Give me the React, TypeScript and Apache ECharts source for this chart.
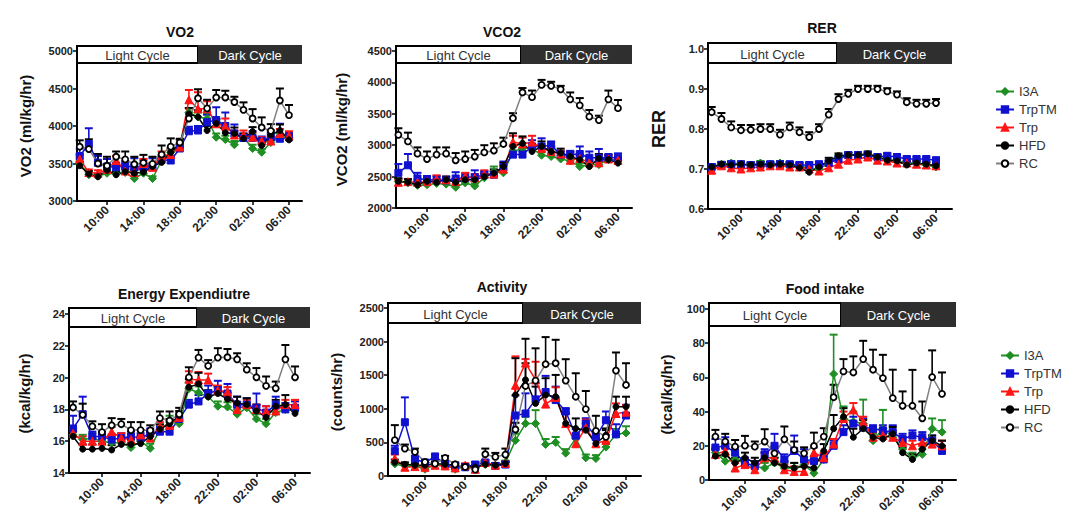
import React, { useEffect, useRef } from 'react';
import * as echarts from 'echarts';

// ---------- data ----------
const hours = [7, 8, 9, 10, 11, 12, 13, 14, 15, 16, 17, 18, 19, 20, 21, 22, 23, 24, 25, 26, 27, 28, 29, 30];
const tickHours = [10, 14, 18, 22, 26, 30];
const tickLabels = ['10:00', '14:00', '18:00', '22:00', '02:00', '06:00'];
const groups = ['I3A', 'TrpTM', 'Trp', 'HFD', 'RC'];

// VO2
const vo2_I3A = [3500, 3350, 3330, 3370, 3360, 3380, 3300, 3370, 3300, 3540, 3650, 3720, 4180, 4120, 4100, 3850, 3820, 3750, 3850, 3700, 3650, 3780, 3850, 3850];
const vo2_TrpTM = [3600, 3760, 3510, 3460, 3450, 3470, 3450, 3460, 3450, 3550, 3540, 3700, 3930, 3940, 4050, 4080, 4000, 3900, 3840, 3840, 3800, 3850, 3830, 3850];
const vo2_Trp = [3560, 3380, 3370, 3420, 3540, 3400, 3380, 3500, 3450, 3600, 3620, 3720, 4350, 4230, 4230, 4030, 4000, 3880, 3880, 3850, 3800, 3800, 3900, 3870];
const vo2_HFD = [3470, 3360, 3325, 3410, 3350, 3390, 3370, 3385, 3460, 3515, 3645, 3770, 4160, 4120, 3940, 4035, 3910, 3900, 3835, 3925, 3740, 3880, 3940, 3815];
const vo2_RC = [3724, 3693, 3500, 3470, 3590, 3555, 3490, 3510, 3495, 3620, 3725, 3780, 4100, 4370, 4235, 4380, 4380, 4320, 4215, 4100, 3980, 3935, 4340, 4145];
const vo2_I3A_err = [40, 30, 30, 40, 30, 30, 30, 40, 30, 50, 50, 40, 60, 60, 60, 50, 50, 50, 50, 50, 40, 40, 50, 50];
const vo2_TrpTM_err = [100, 210, 90, 100, 60, 60, 120, 80, 120, 60, 60, 60, 60, 60, 100, 170, 180, 120, 60, 90, 60, 60, 200, 60];
const vo2_Trp_err = [60, 40, 40, 40, 60, 50, 50, 60, 60, 60, 60, 60, 130, 220, 100, 60, 100, 60, 60, 60, 50, 50, 60, 60];
const vo2_HFD_err = [50, 40, 40, 40, 40, 40, 40, 40, 40, 50, 60, 60, 80, 90, 60, 60, 70, 80, 60, 60, 60, 60, 80, 60];
const vo2_RC_err = [85, 130, 127, 120, 70, 105, 100, 105, 95, 120, 110, 40, 135, 120, 115, 100, 90, 70, 100, 125, 135, 90, 160, 135];

// VCO2
const vco2_I3A = [2420, 2400, 2360, 2370, 2390, 2380, 2330, 2400, 2350, 2480, 2580, 2560, 2900, 2950, 2950, 2840, 2820, 2780, 2750, 2660, 2690, 2690, 2770, 2750];
const vco2_TrpTM = [2560, 2680, 2470, 2450, 2450, 2440, 2470, 2480, 2490, 2530, 2530, 2650, 2850, 2850, 2980, 2980, 3000, 2850, 2850, 2860, 2800, 2800, 2800, 2800];
const vco2_Trp = [2410, 2420, 2410, 2420, 2460, 2450, 2420, 2500, 2480, 2540, 2540, 2620, 3050, 3020, 3050, 2950, 2900, 2860, 2760, 2790, 2720, 2720, 2780, 2760];
const vco2_HFD = [2425, 2410, 2370, 2425, 2410, 2450, 2410, 2450, 2450, 2500, 2555, 2660, 2980, 3030, 2900, 2980, 2900, 2875, 2820, 2770, 2660, 2790, 2770, 2715];
const vco2_RC = [3165, 3060, 2865, 2780, 2850, 2865, 2760, 2780, 2820, 2885, 2915, 3020, 3430, 3840, 3765, 3960, 3945, 3890, 3730, 3635, 3455, 3400, 3730, 3590];
const vco2_I3A_err = [40, 40, 40, 40, 40, 40, 40, 40, 40, 40, 80, 40, 80, 80, 60, 50, 50, 50, 50, 50, 50, 50, 50, 50];
const vco2_TrpTM_err = [140, 180, 90, 60, 60, 60, 100, 70, 110, 60, 60, 90, 60, 60, 100, 130, 60, 60, 60, 120, 100, 140, 60, 70];
const vco2_Trp_err = [40, 40, 40, 40, 60, 40, 40, 60, 60, 60, 60, 60, 100, 100, 100, 60, 60, 50, 50, 50, 50, 50, 50, 50];
const vco2_HFD_err = [50, 50, 40, 50, 40, 50, 50, 50, 50, 50, 60, 60, 210, 110, 80, 80, 80, 70, 70, 80, 80, 70, 70, 60];
const vco2_RC_err = [105, 140, 100, 120, 115, 100, 115, 120, 105, 115, 115, 100, 80, 70, 105, 80, 65, 55, 110, 115, 105, 70, 140, 130];

// RER
const rer_I3A = [0.705, 0.712, 0.715, 0.712, 0.71, 0.715, 0.712, 0.715, 0.71, 0.71, 0.7, 0.7, 0.715, 0.73, 0.735, 0.735, 0.735, 0.728, 0.725, 0.72, 0.715, 0.715, 0.71, 0.705];
const rer_TrpTM = [0.705, 0.71, 0.712, 0.712, 0.71, 0.71, 0.712, 0.712, 0.712, 0.71, 0.71, 0.712, 0.715, 0.725, 0.735, 0.735, 0.735, 0.73, 0.733, 0.73, 0.725, 0.725, 0.725, 0.722];
const rer_Trp = [0.697, 0.708, 0.703, 0.7, 0.703, 0.705, 0.708, 0.708, 0.705, 0.705, 0.7, 0.695, 0.703, 0.712, 0.722, 0.725, 0.73, 0.722, 0.72, 0.715, 0.715, 0.712, 0.71, 0.708];
const rer_HFD = [0.705, 0.712, 0.71, 0.712, 0.71, 0.712, 0.71, 0.712, 0.71, 0.703, 0.692, 0.705, 0.72, 0.733, 0.735, 0.735, 0.738, 0.73, 0.722, 0.72, 0.71, 0.715, 0.712, 0.708];
const rer_RC = [0.842, 0.825, 0.804, 0.797, 0.798, 0.8, 0.8, 0.786, 0.804, 0.792, 0.78, 0.8, 0.836, 0.875, 0.888, 0.9, 0.9, 0.9, 0.894, 0.886, 0.867, 0.863, 0.863, 0.865];
const rer_I3A_err = [0.005, 0.005, 0.005, 0.005, 0.005, 0.005, 0.005, 0.005, 0.005, 0.005, 0.005, 0.005, 0.005, 0.005, 0.005, 0.005, 0.005, 0.005, 0.005, 0.005, 0.005, 0.005, 0.005, 0.005];
const rer_TrpTM_err = [0.006, 0.006, 0.006, 0.006, 0.006, 0.006, 0.006, 0.006, 0.006, 0.006, 0.006, 0.006, 0.006, 0.006, 0.006, 0.006, 0.006, 0.006, 0.006, 0.006, 0.006, 0.006, 0.006, 0.006];
const rer_Trp_err = [0.005, 0.005, 0.005, 0.005, 0.005, 0.005, 0.005, 0.005, 0.005, 0.005, 0.005, 0.005, 0.005, 0.005, 0.005, 0.005, 0.005, 0.005, 0.005, 0.005, 0.005, 0.005, 0.005, 0.005];
const rer_HFD_err = [0.006, 0.006, 0.006, 0.006, 0.006, 0.006, 0.006, 0.006, 0.006, 0.006, 0.006, 0.006, 0.008, 0.006, 0.006, 0.006, 0.006, 0.006, 0.006, 0.006, 0.006, 0.006, 0.006, 0.006];
const rer_RC_err = [0.013, 0.015, 0.015, 0.013, 0.012, 0.012, 0.012, 0.012, 0.012, 0.012, 0.012, 0.012, 0.014, 0.012, 0.01, 0.008, 0.008, 0.008, 0.008, 0.008, 0.01, 0.01, 0.01, 0.01];

// Energy expenditure
const ee_I3A = [16.4, 16.1, 16.2, 16.0, 15.9, 15.9, 15.6, 16.0, 15.55, 16.75, 17.2, 17.1, 19.3, 19.05, 18.8, 18.2, 18.15, 17.7, 18.1, 17.4, 17.1, 17.8, 18.0, 17.9];
const ee_TrpTM = [16.8, 17.7, 16.3, 16.3, 16.1, 16.2, 16.3, 16.2, 16.5, 16.6, 16.6, 17.4, 18.3, 18.5, 19.0, 19.2, 19.0, 18.3, 18.3, 18.1, 17.8, 18.3, 18.0, 18.1];
const ee_Trp = [16.5, 16.0, 16.0, 16.0, 16.6, 16.2, 16.1, 16.4, 16.2, 16.9, 17.0, 17.5, 19.9, 19.85, 19.85, 19.2, 19.1, 18.0, 18.3, 18.0, 17.9, 17.9, 18.3, 18.3];
const ee_HFD = [16.3, 15.5, 15.5, 15.55, 15.45, 15.8, 15.8, 15.85, 16.3, 16.75, 17.1, 17.6, 19.4, 19.6, 18.8, 19.0, 18.65, 18.4, 18.3, 17.9, 17.5, 18.2, 18.3, 17.75];
const ee_RC = [18.12, 17.66, 16.93, 16.57, 17.0, 17.07, 16.7, 16.7, 16.68, 17.45, 17.3, 17.7, 20.02, 21.26, 20.74, 21.26, 21.28, 21.15, 20.5, 20.02, 19.48, 19.33, 21.15, 20.02];
const ee_I3A_err = [0.3, 0.3, 0.3, 0.3, 0.3, 0.3, 0.3, 0.3, 0.3, 0.3, 0.4, 0.3, 0.4, 0.4, 0.4, 0.3, 0.3, 0.3, 0.3, 0.3, 0.3, 0.3, 0.3, 0.3];
const ee_TrpTM_err = [0.8, 1.1, 0.3, 0.3, 0.3, 0.3, 0.3, 0.3, 0.3, 0.3, 0.3, 0.3, 0.3, 0.4, 0.5, 0.6, 0.6, 0.5, 0.4, 0.9, 0.4, 0.5, 0.4, 0.4];
const ee_Trp_err = [0.3, 0.3, 0.3, 0.3, 0.3, 0.3, 0.3, 0.3, 0.3, 0.3, 0.3, 0.3, 0.5, 0.5, 0.4, 0.3, 0.3, 0.3, 0.3, 0.3, 0.3, 0.3, 0.3, 0.3];
const ee_HFD_err = [0.3, 0.3, 0.3, 0.3, 0.3, 0.3, 0.3, 0.3, 0.3, 0.3, 0.3, 0.3, 0.5, 0.7, 0.4, 0.4, 0.4, 0.4, 0.4, 0.4, 0.4, 0.4, 0.6, 0.4];
const ee_RC_err = [0.38, 0.7, 0.32, 0.5, 0.45, 0.33, 0.5, 0.5, 0.32, 0.42, 0.57, 0.4, 0.63, 0.48, 0.36, 0.59, 0.52, 0.38, 0.4, 0.58, 0.59, 0.42, 0.9, 0.68];

// Activity
const act_I3A = [180, 150, 150, 100, 170, 170, 100, 140, 120, 170, 160, 200, 530, 780, 780, 470, 500, 340, 560, 270, 260, 430, 620, 640];
const act_TrpTM = [370, 800, 250, 200, 290, 180, 150, 130, 170, 200, 150, 170, 900, 930, 1140, 1250, 1130, 960, 600, 780, 580, 830, 620, 900];
const act_Trp = [260, 130, 140, 130, 160, 150, 120, 160, 100, 200, 160, 190, 1350, 1680, 1430, 1070, 1170, 780, 480, 720, 480, 530, 930, 950];
const act_HFD = [204, 174, 160, 160, 184, 174, 160, 144, 134, 174, 160, 184, 1205, 1430, 1080, 1205, 1180, 782, 707, 682, 483, 608, 1031, 1031];
const act_RC = [533, 408, 358, 209, 184, 269, 174, 134, 95, 324, 284, 319, 692, 1340, 1420, 1663, 1678, 1420, 1180, 996, 672, 583, 1569, 1355];
const act_I3A_err = [30, 30, 30, 30, 30, 30, 30, 30, 30, 30, 30, 30, 100, 100, 200, 80, 80, 60, 60, 50, 50, 60, 80, 100];
const act_TrpTM_err = [80, 370, 50, 40, 40, 40, 40, 40, 40, 40, 40, 40, 300, 300, 250, 240, 200, 50, 100, 80, 60, 130, 150, 160];
const act_Trp_err = [60, 30, 30, 30, 30, 30, 30, 30, 30, 30, 30, 30, 430, 60, 270, 150, 150, 150, 100, 120, 80, 80, 150, 100];
const act_HFD_err = [40, 30, 30, 30, 30, 30, 30, 30, 30, 30, 30, 30, 548, 248, 250, 250, 324, 150, 150, 100, 60, 100, 150, 149];
const act_RC_err = [224, 60, 50, 30, 30, 30, 30, 30, 30, 84, 60, 89, 100, 702, 480, 404, 349, 318, 349, 269, 224, 100, 269, 323];

// Food intake
const food_I3A = [16, 11, 12, 10, 8, 7, 10, 7, 7, 9, 4, 12, 62, 36, 34, 33, 23, 30, 25, 18, 13, 15, 30, 28];
const food_TrpTM = [19, 20, 16, 10, 8, 15, 20, 12, 17, 12, 11, 12, 20, 28, 33, 31, 30, 29, 28, 24, 26, 25, 23, 17];
const food_Trp = [15, 17, 7, 9, 6, 13, 13, 6, 5, 5, 16, 13, 21, 36, 41, 34, 25, 26, 25, 22, 20, 22, 21, 20];
const food_HFD = [14, 15, 10, 13, 10, 13, 10, 8, 7, 8, 7, 17, 30, 37, 25, 30, 25, 24, 27, 16, 12, 18, 23, 20];
const food_RC = [25.4, 22.5, 19.5, 20.1, 19.5, 22.5, 15.6, 23.8, 17.6, 15.6, 19.9, 25.4, 48.4, 63.5, 62.9, 70.7, 64.5, 59.6, 47.9, 43.4, 43.4, 36.1, 60.2, 50.4];
const food_I3A_err = [3, 3, 3, 3, 3, 3, 3, 3, 3, 3, 3, 3, 23, 7, 6, 14, 4, 11, 4, 4, 3, 3, 6, 7];
const food_TrpTM_err = [5, 5, 3, 3, 3, 3, 7, 3, 9, 6, 3, 3, 3, 4, 4, 5, 2, 3, 4, 3, 3, 3, 3, 3];
const food_Trp_err = [3, 3, 3, 3, 3, 3, 3, 3, 3, 3, 3, 3, 3, 4, 4, 3, 3, 3, 3, 3, 3, 3, 3, 3];
const food_HFD_err = [4, 4, 3, 3, 3, 3, 3, 3, 3, 3, 3, 4, 8, 5, 5, 5, 4, 3, 4, 3, 3, 3, 3, 3];
const food_RC_err = [3.9, 4.5, 3.9, 5.7, 3, 7.2, 4, 7.5, 4.9, 3.5, 7.8, 4.9, 7.3, 7.2, 9.4, 10.7, 11.7, 13.6, 16.6, 8.4, 21, 9.8, 15.6, 12.5];

// ---------- styling ----------
const FONT = '"Liberation Sans", Arial, Helvetica, sans-serif';
const groupStyles = [
  { line: '#1f8f24', fill: '#1f8f24', border: '#1f8f24', symbol: 'diamond', size: 8, err: '#1f8f24', bw: 1 },
  { line: '#1010d0', fill: '#1010d0', border: '#1010d0', symbol: 'rect', size: 7, err: '#1010d0', bw: 1 },
  { line: '#ff1515', fill: '#ff1515', border: '#ff1515', symbol: 'triangle', size: 8, err: '#ff1515', bw: 1 },
  { line: '#000000', fill: '#000000', border: '#000000', symbol: 'circle', size: 6, err: '#000000', bw: 1 },
  { line: '#808080', fill: '#ffffff', border: '#000000', symbol: 'circle', size: 6, err: '#000000', bw: 1.8 },
];

const panels = [
  {
    title: 'VO2', titleX: 175, titleTop: 20, yName: 'VO2 (ml/kg/hr)', nameGap: 44, nameSize: 15,
    yMin: 3000, yMax: 5000, yStep: 500, xMin: 6.7, xMax: 31.43, dec: 0,
    grid: { left: 77, top: 51, width: 225, height: 150 },
    band: { top: 46, h: 17, split: 198 },
    values: [vo2_I3A, vo2_TrpTM, vo2_Trp, vo2_HFD, vo2_RC],
    errs: [vo2_I3A_err, vo2_TrpTM_err, vo2_Trp_err, vo2_HFD_err, vo2_RC_err],
  },
  {
    title: 'VCO2', titleX: 497, titleTop: 20, yName: 'VCO2 (ml/kg/hr)', nameGap: 47, nameSize: 15,
    yMin: 2000, yMax: 4500, yStep: 500, xMin: 6.75, xMax: 31.47, dec: 0,
    grid: { left: 396, top: 51, width: 236, height: 157 },
    band: { top: 46, h: 17, split: 521 },
    values: [vco2_I3A, vco2_TrpTM, vco2_Trp, vco2_HFD, vco2_RC],
    errs: [vco2_I3A_err, vco2_TrpTM_err, vco2_Trp_err, vco2_HFD_err, vco2_RC_err],
  },
  {
    title: 'RER', titleX: 817, titleTop: 16, yName: 'RER', nameGap: 40, nameSize: 18,
    yMin: 0.6, yMax: 1.0, yStep: 0.1, xMin: 6.62, xMax: 31.64, dec: 1,
    grid: { left: 708, top: 49, width: 244, height: 160 },
    band: { top: 43, h: 20, split: 837 },
    values: [rer_I3A, rer_TrpTM, rer_Trp, rer_HFD, rer_RC],
    errs: [rer_I3A_err, rer_TrpTM_err, rer_Trp_err, rer_HFD_err, rer_RC_err],
  },
  {
    title: 'Energy Expendiutre', titleX: 179, titleTop: 282, yName: '(kcal/kg/hr)', nameGap: 37, nameSize: 15,
    yMin: 14, yMax: 24, yStep: 2, xMin: 6.58, xMax: 31.55, dec: 0,
    grid: { left: 69, top: 314, width: 241, height: 159 },
    band: { top: 308, h: 19, split: 197 },
    values: [ee_I3A, ee_TrpTM, ee_Trp, ee_HFD, ee_RC],
    errs: [ee_I3A_err, ee_TrpTM_err, ee_Trp_err, ee_HFD_err, ee_RC_err],
  },
  {
    title: 'Activity', titleX: 497, titleTop: 275, yName: '(counts/hr)', nameGap: 44, nameSize: 15,
    yMin: 0, yMax: 2500, yStep: 500, xMin: 6.32, xMax: 31.49, dec: 0,
    grid: { left: 388, top: 308, width: 253, height: 168 },
    band: { top: 303, h: 20, split: 523 },
    values: [act_I3A, act_TrpTM, act_Trp, act_HFD, act_RC],
    errs: [act_I3A_err, act_TrpTM_err, act_Trp_err, act_HFD_err, act_RC_err],
  },
  {
    title: 'Food intake', titleX: 820, titleTop: 277, yName: '(kcal/kg/hr)', nameGap: 35, nameSize: 15,
    yMin: 0, yMax: 100, yStep: 20, xMin: 6.35, xMax: 31.42, dec: 0,
    grid: { left: 709, top: 309, width: 247, height: 171 },
    band: { top: 303, h: 23, split: 841 },
    values: [food_I3A, food_TrpTM, food_Trp, food_HFD, food_RC],
    errs: [food_I3A_err, food_TrpTM_err, food_Trp_err, food_HFD_err, food_RC_err],
  },
];

function buildOption() {
  const grid: any[] = [];
  const xAxis: any[] = [];
  const yAxis: any[] = [];
  const series: any[] = [];
  const title: any[] = [];
  const graphic: any[] = [];

  panels.forEach((p, pi) => {
    grid.push({ ...p.grid, containLabel: false });
    title.push({
      text: p.title, left: p.titleX, top: p.titleTop, textAlign: 'center',
      textStyle: { fontFamily: FONT, fontSize: 14, fontWeight: 'bold', color: '#111' },
    });
    xAxis.push({
      type: 'value', gridIndex: pi, min: p.xMin, max: p.xMax,
      axisLine: { show: true, onZero: false, lineStyle: { color: '#000', width: 2 } },
      axisTick: { show: true, customValues: tickHours, length: 4, lineStyle: { color: '#000', width: 1.5 } },
      axisLabel: {
        customValues: tickHours, rotate: 45, margin: 7,
        fontFamily: FONT, fontSize: 12, fontWeight: 'bold', color: '#222',
        formatter: (v: number) => {
          const k = tickHours.indexOf(Math.round(v));
          return k >= 0 ? tickLabels[k] : '';
        },
      },
      splitLine: { show: false },
    });
    yAxis.push({
      type: 'value', gridIndex: pi, min: p.yMin, max: p.yMax, interval: p.yStep,
      name: p.yName, nameLocation: 'middle', nameGap: p.nameGap,
      nameTextStyle: { fontFamily: FONT, fontSize: p.nameSize, fontWeight: 'bold', color: '#111' },
      axisLine: { show: true, lineStyle: { color: '#000', width: 2 } },
      axisTick: { show: true, length: 4, lineStyle: { color: '#000', width: 1.5 } },
      axisLabel: {
        margin: 4, fontFamily: FONT, fontSize: 11, fontWeight: 'bold', color: '#222',
        formatter: (v: number) => v.toFixed(p.dec),
      },
      splitLine: { show: false },
    });

    groups.forEach((g, gi) => {
      const st = groupStyles[gi];
      const vals = p.values[gi];
      const errs = p.errs[gi];
      series.push({
        type: 'custom', name: g + ' SEM', xAxisIndex: pi, yAxisIndex: pi,
        data: hours.map((h, i) => [h, vals[i], vals[i] + errs[i]]),
        encode: { x: 0, y: [1, 2] },
        silent: true,
        renderItem: (params: any, api: any) => {
          const x = api.value(0);
          const p0 = api.coord([x, api.value(1)]);
          const p1 = api.coord([x, api.value(2)]);
          return {
            type: 'group',
            children: [
              { type: 'line', shape: { x1: p0[0], y1: p0[1], x2: p1[0], y2: p1[1] }, style: { stroke: st.err, lineWidth: 1.6 } },
              { type: 'line', shape: { x1: p1[0] - 4, y1: p1[1], x2: p1[0] + 4, y2: p1[1] }, style: { stroke: st.err, lineWidth: 2 } },
            ],
          };
        },
      });
      series.push({
        type: 'line', name: g, xAxisIndex: pi, yAxisIndex: pi,
        data: hours.map((h, i) => [h, vals[i]]),
        symbol: st.symbol, symbolSize: st.size, showSymbol: true,
        lineStyle: { color: st.line, width: 1.5 },
        itemStyle: { color: st.fill, borderColor: st.border, borderWidth: st.bw },
        emphasis: { disabled: true },
      });
    });

    // Light / Dark cycle bands
    const gl = p.grid.left;
    const gr = p.grid.left + p.grid.width;
    const b = p.band;
    graphic.push({
      type: 'rect', z: 100,
      shape: { x: gl, y: b.top, width: b.split - gl, height: b.h },
      style: { fill: '#ffffff', stroke: '#000000', lineWidth: 2 },
    });
    graphic.push({
      type: 'rect', z: 100,
      shape: { x: b.split, y: b.top - 1, width: gr - b.split, height: b.h + 2 },
      style: { fill: '#2f2f2f' },
    });
    graphic.push({
      type: 'text', z: 101, x: (gl + b.split) / 2, y: b.top + b.h / 2 + 1,
      style: { text: 'Light Cycle', fontFamily: FONT, fontSize: 13, fill: '#333', textAlign: 'center', textVerticalAlign: 'middle' },
    });
    graphic.push({
      type: 'text', z: 101, x: (b.split + gr) / 2, y: b.top + b.h / 2 + 1,
      style: { text: 'Dark Cycle', fontFamily: FONT, fontSize: 13, fill: '#fff', textAlign: 'center', textVerticalAlign: 'middle' },
    });
  });

  const legendBase = {
    orient: 'vertical', itemWidth: 18, itemHeight: 8, itemGap: 5,
    data: groups,
    textStyle: { fontFamily: FONT, fontSize: 13, color: '#333' },
    selectedMode: false,
  };

  return {
    animation: false,
    backgroundColor: '#ffffff',
    title,
    grid,
    xAxis,
    yAxis,
    series,
    graphic,
    legend: [
      { ...legendBase, left: 990, top: 80 },
      { ...legendBase, left: 995, top: 344 },
    ],
  };
}

export default function App() {
  const ref = useRef<HTMLDivElement>(null);
  useEffect(() => {
    if (!ref.current) return;
    const chart = echarts.init(ref.current, undefined, { renderer: 'svg' });
    chart.setOption(buildOption() as any);
    return () => chart.dispose();
  }, []);
  return (
    <div
      ref={ref}
      style={{ position: 'absolute', left: 0, top: 0, width: 1082, height: 524, background: '#fff' }}
    />
  );
}
